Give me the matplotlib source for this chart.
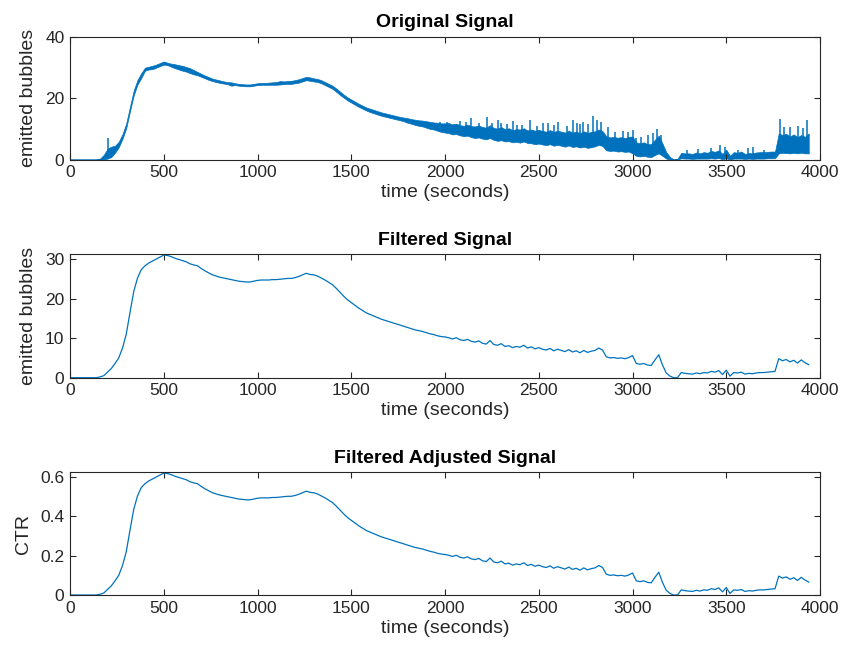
import numpy as np
import matplotlib
matplotlib.use("Agg")
import matplotlib.pyplot as plt

plt.rcParams["font.family"] = ["Liberation Sans", "DejaVu Sans"]

# sample times (seconds), one reading every 20 s
t = np.arange(0, 3941, 20)

# original signal: lower and upper edge of the noise band at each sample time
orig_low = [
    0, 0, 0, 0, 0, 0, 0, 0, 0, 0,
    0.3, 0.8, 2.2, 4.0, 6.8, 10.3, 15.8, 21.0, 24.5, 26.6,
    29.0, 29.4, 29.5, 30.0, 30.5, 31.0, 30.8, 30.3, 29.8, 29.4,
    29.0, 28.7, 28.2, 27.8, 27.5, 27.0, 26.5, 26.0, 25.6, 25.3,
    25.0, 24.8, 24.6, 24.1, 24.3, 24.1, 24.0, 23.9, 23.9, 24.1,
    24.3, 24.4, 24.4, 24.4, 24.4, 24.4, 24.5, 24.6, 24.7, 24.7,
    24.9, 25.1, 25.5, 25.9, 25.7, 25.5, 25.3, 24.9, 24.3, 23.7,
    23.1, 22.1, 21.1, 20.2, 19.3, 18.6, 17.9, 17.2, 16.6, 16.0,
    15.5, 15.1, 14.7, 14.3, 14.0, 13.7, 13.4, 13.1, 12.8, 12.5,
    12.0, 11.7, 11.3, 11.0, 10.8, 10.4, 10.0, 9.8, 9.4, 9.0,
    8.8, 8.6, 8.2, 8.3, 7.9, 7.6, 7.8, 7.3, 7.0, 7.2,
    6.8, 6.6, 7.0, 6.4, 6.1, 6.3, 5.9, 6.0, 5.6, 5.8,
    5.5, 5.9, 5.4, 5.3, 5.0, 5.2, 4.9, 4.7, 5.0, 4.5,
    4.8, 4.5, 4.2, 4.6, 4.1, 4.3, 3.9, 4.2, 3.8, 4.0,
    4.3, 4.8, 4.4, 3.0, 2.8, 2.9, 2.6, 2.7, 2.5, 2.6,
    2.0, 1.2, 1.0, 1.2, 0.9, 0.8, 1.5, 2.0, 1.2, 0.3,
    0.0, 0.0, 0.0, 0.4, 0.3, 0.3, 0.2, 0.3, 0.3, 0.3,
    0.3, 0.4, 0.3, 0.5, 0.1, 0.4, 0.0, 0.3, 0.3, 0.3,
    0.2, 0.3, 0.2, 0.3, 0.3, 0.3, 0.4, 0.4, 0.4, 2.0,
    2.2, 2.1, 2.0, 2.2, 2.0, 2.2, 2.0, 2.0,
]
orig_high = [
    0, 0, 0, 0, 0, 0, 0, 0, 0.3, 1.5,
    3.5, 4.2, 4.5, 5.8, 8.3, 11.8, 17.3, 22.6, 26.0, 28.2,
    30.0, 30.3, 30.6, 31.0, 31.5, 32.0, 31.6, 31.3, 31.1, 30.8,
    30.6, 30.2, 29.8, 29.2, 28.6, 28.0, 27.4, 26.9, 26.4, 26.1,
    25.8, 25.5, 25.3, 25.2, 24.9, 24.7, 24.6, 24.5, 24.5, 24.7,
    24.9, 25.0, 25.0, 25.1, 25.2, 25.3, 25.6, 25.5, 25.6, 25.7,
    25.9, 26.2, 26.6, 27.0, 26.8, 26.5, 26.3, 25.9, 25.3, 24.7,
    24.1, 23.2, 22.2, 21.2, 20.3, 19.6, 18.9, 18.2, 17.6, 17.0,
    16.6, 16.2, 15.8, 15.4, 15.1, 14.8, 14.5, 14.2, 13.9, 13.7,
    13.5, 13.2, 13.0, 12.8, 12.7, 12.5, 12.3, 12.1, 12.0, 11.8,
    11.8, 11.9, 11.4, 11.7, 11.2, 11.0, 11.4, 10.9, 10.8, 11.1,
    10.6, 10.4, 11.2, 10.3, 10.1, 10.6, 9.9, 10.2, 9.6, 9.9,
    9.8, 10.2, 9.5, 9.8, 9.4, 9.7, 9.3, 9.1, 9.6, 9.0,
    9.4, 9.1, 8.8, 9.4, 8.8, 9.1, 8.6, 9.2, 8.7, 9.0,
    9.2, 9.8, 9.3, 7.6, 7.2, 7.4, 7.1, 7.3, 7.0, 7.4,
    7.5, 5.6, 5.3, 5.6, 5.0, 5.0, 6.5, 7.8, 5.2, 2.4,
    0.8, 0.0, 0.2, 2.2, 2.0, 2.0, 1.8, 2.3, 2.0, 2.4,
    2.2, 2.8, 2.5, 3.0, 1.8, 3.2, 1.2, 2.4, 2.2, 2.6,
    1.8, 2.1, 2.0, 2.3, 2.4, 2.4, 2.5, 2.6, 2.6, 8.5,
    8.0, 8.4, 7.5, 8.2, 7.3, 8.0, 7.4, 8.5,
]

# isolated needle spikes of the original signal: time (s) and peak value
spike_t = [200, 1975, 2011, 2050, 2080, 2110, 2136, 2180, 2225, 2250,
           2283, 2300, 2330, 2360, 2382, 2410, 2451, 2489, 2520, 2549,
           2580, 2603, 2650, 2680, 2705, 2720, 2738, 2760, 2791, 2810,
           2834, 2870, 2904, 2950, 2975, 3004, 3020, 3045, 3083, 3110,
           3132, 3150, 3289, 3350, 3420, 3467, 3491, 3560, 3616, 3644,
           3700, 3787, 3810, 3840, 3882, 3910, 3929]
spike_v = [7.0, 12.3, 12.1, 11.5, 12.6, 12.2, 13.4, 12.0, 13.9, 11.8,
           12.8, 12.0, 11.6, 12.5, 11.2, 11.3, 12.8, 10.9, 12.0, 11.8,
           11.4, 12.1, 11.0, 12.8, 11.8, 11.6, 12.3, 11.5, 14.2, 12.9,
           12.3, 10.6, 9.0, 9.4, 9.0, 9.5, 7.0, 7.2, 7.9, 8.5,
           9.8, 8.0, 3.1, 3.4, 3.6, 4.7, 4.1, 3.2, 3.6, 4.1,
           3.0, 13.1, 10.5, 10.7, 11.0, 10.2, 13.0]

# low-pass filtered signal (emitted bubbles)
filtered = [
    0, 0, 0, 0, 0, 0, 0, 0, 0.2, 0.5,
    1.4, 2.3, 3.6, 5.0, 7.5, 11.0, 16.5, 21.8, 25.2, 27.3,
    28.3, 29.0, 29.5, 30.0, 30.5, 31.0, 30.9, 30.6, 30.2, 29.9,
    29.6, 29.3, 28.8, 28.5, 28.3, 27.6, 27.0, 26.5, 26.0, 25.7,
    25.4, 25.2, 25.0, 24.8, 24.6, 24.4, 24.3, 24.2, 24.2, 24.4,
    24.6, 24.7, 24.7, 24.7, 24.8, 24.8, 24.9, 25.0, 25.1, 25.1,
    25.3, 25.6, 26.0, 26.4, 26.1, 26.0, 25.7, 25.2, 24.7, 24.1,
    23.5, 22.6, 21.6, 20.6, 19.7, 19.0, 18.3, 17.6, 17.0, 16.4,
    16.0, 15.6, 15.2, 14.8, 14.5, 14.2, 13.9, 13.6, 13.3, 13.0,
    12.7, 12.4, 12.1, 11.9, 11.7, 11.4, 11.1, 10.9, 10.6, 10.4,
    10.3, 10.1, 9.8, 10.1, 9.6, 9.4, 9.7, 9.2, 9.0, 9.3,
    8.7, 8.5, 9.4, 8.4, 8.2, 8.6, 7.9, 8.1, 7.6, 7.9,
    7.7, 8.2, 7.5, 7.8, 7.3, 7.6, 7.2, 7.0, 7.4, 6.8,
    7.2, 6.9, 6.6, 7.1, 6.5, 6.8, 6.3, 6.9, 6.4, 6.7,
    6.9, 7.5, 7.0, 5.3, 5.0, 5.1, 4.9, 5.0, 4.8, 5.1,
    5.6, 3.6, 3.4, 3.6, 3.2, 3.1, 4.5, 5.8, 3.2, 1.2,
    0.4, 0.0, 0.0, 1.3, 1.1, 1.0, 0.9, 1.2, 1.0, 1.3,
    1.2, 1.6, 1.4, 1.8, 0.8, 1.9, 0.4, 1.3, 1.2, 1.4,
    0.9, 1.1, 1.0, 1.2, 1.3, 1.3, 1.4, 1.5, 1.6, 4.8,
    4.3, 4.6, 4.0, 4.4, 3.7, 4.5, 3.8, 3.3,
]

# the adjusted signal is the filtered count divided by this reference count
adjust_divisor = 50.0

xticks = [0, 500, 1000, 1500, 2000, 2500, 3000, 3500, 4000]

orig_low = np.asarray(orig_low)
orig_high = np.asarray(orig_high)
filtered = np.asarray(filtered)
ctr = filtered / adjust_divisor

line_color = "#0072BD"
axis_color = "#262626"
tick_fs = 12.5
label_fs = 14

W, H = 844, 656
fig = plt.figure(figsize=(W / 100, H / 100), dpi=100, facecolor="white")


def make_axes(top_px, bottom_px):
    left, right = 70, 820
    return fig.add_axes([left / W, 1 - bottom_px / H,
                         (right - left) / W, (bottom_px - top_px) / H])


def style(ax, title, ylabel, ylim, yticks, yticklabels):
    ax.set_xlim(0, 4000)
    ax.set_ylim(*ylim)
    ax.set_xticks(xticks)
    ax.set_xticklabels([str(v) for v in xticks])
    ax.set_yticks(yticks)
    ax.set_yticklabels(yticklabels)
    ax.tick_params(direction="in", length=4, width=0.8, colors=axis_color,
                   labelsize=tick_fs, top=True, right=True, pad=4)
    for s in ax.spines.values():
        s.set_color(axis_color)
        s.set_linewidth(0.8)
    ax.set_title(title, fontsize=label_fs, fontweight="bold",
                 color="black", pad=7)
    ax.set_xlabel("time (seconds)", fontsize=label_fs, color=axis_color,
                  labelpad=3)
    ax.set_ylabel(ylabel, fontsize=label_fs, color=axis_color, labelpad=6)


# original signal: noise band plus the needle spikes rising out of it
ax1 = make_axes(37, 159.5)
ax1.fill_between(t, orig_low, orig_high, color=line_color, lw=0.5,
                 edgecolor=line_color)
spike_base = np.interp(spike_t, t, orig_low)
ax1.vlines(spike_t, spike_base, spike_v, color=line_color, lw=1.1)
style(ax1, "Original Signal", "emitted bubbles", (0, 40),
      [0, 20, 40], ["0", "20", "40"])

ax2 = make_axes(254.3, 377.7)
ax2.plot(t, filtered, color=line_color, lw=0.9)
style(ax2, "Filtered Signal", "emitted bubbles", (0, 31.2),
      [0, 10, 20, 30], ["0", "10", "20", "30"])

ax3 = make_axes(472.3, 595)
ax3.plot(t, ctr, color=line_color, lw=0.9)
style(ax3, "Filtered Adjusted Signal", "CTR", (0, 0.624),
      [0, 0.2, 0.4, 0.6], ["0", "0.2", "0.4", "0.6"])

fig.savefig("out.png", dpi=100, facecolor="white")
